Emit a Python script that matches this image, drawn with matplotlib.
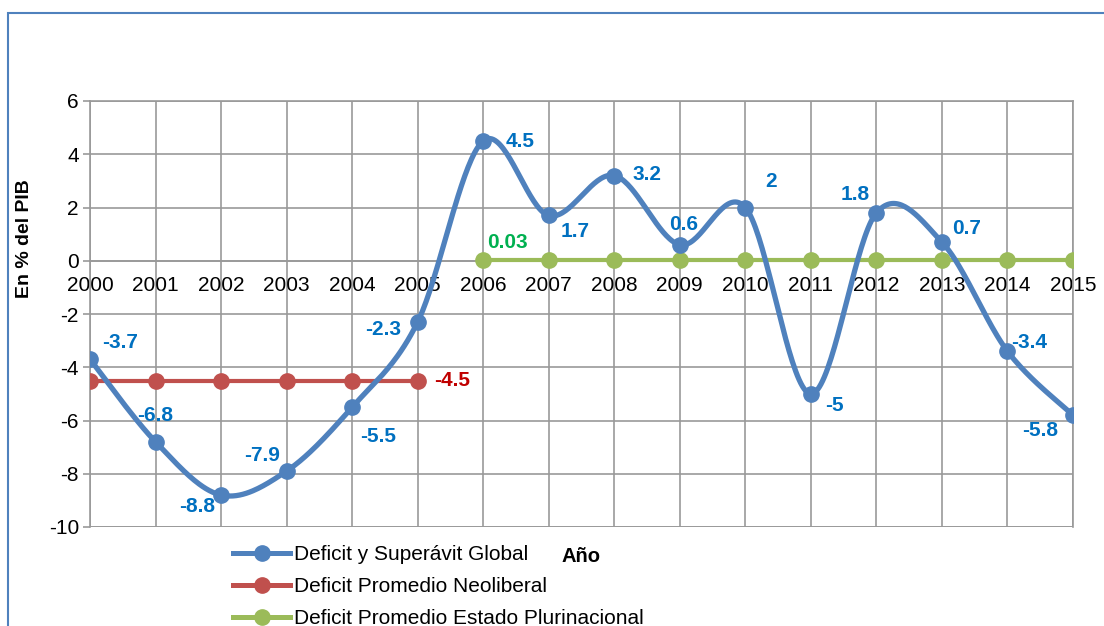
import numpy as np
import matplotlib.pyplot as plt
from matplotlib.lines import Line2D
from matplotlib.patches import Rectangle

plt.rcParams['font.family'] = ['Liberation Sans', 'DejaVu Sans']
plt.rcParams['axes.unicode_minus'] = False

# Datos
anios = np.arange(2000, 2016)
deficit_global = [-3.7, -6.8, -8.8, -7.9, -5.5, -2.3, 4.5, 1.7, 3.2, 0.6, 2, -5, 1.8, 0.7, -3.4, -5.8]
anios_neoliberal = np.arange(2000, 2006)
promedio_neoliberal = [-4.5] * 6
anios_plurinacional = np.arange(2006, 2016)
promedio_plurinacional = [0.03] * 10

# Posición de las etiquetas (desplazamiento en pixeles)
offsets_global = [(30, 17), (0, 26), (-24, -11), (-25, 16), (26, -29), (-35, -8),
                  (37, -1), (26, -16), (33, 1), (4, 20), (26, 26), (24, -12),
                  (-21, 18), (25, 14), (22, 9), (-33, -15)]

AZUL = '#4F81BD'
ROJO = '#C0504D'
VERDE = '#9BBB59'


def curva_suave(x, y, n=40):
    # linea suavizada tipo Excel (Bezier con tangentes Catmull-Rom)
    x = np.asarray(x, float)
    y = np.asarray(y, float)
    px = np.concatenate([[x[0]], x, [x[-1]]])
    py = np.concatenate([[y[0]], y, [y[-1]]])
    t = np.linspace(0, 1, n)
    xs, ys = [], []
    for i in range(1, len(px) - 2):
        p0 = np.array([px[i], py[i]])
        p3 = np.array([px[i + 1], py[i + 1]])
        p1 = p0 + (p3 - np.array([px[i - 1], py[i - 1]])) / 6
        p2 = p3 - (np.array([px[i + 2], py[i + 2]]) - p0) / 6
        b = ((1 - t) ** 3)[:, None] * p0 + (3 * (1 - t) ** 2 * t)[:, None] * p1 \
            + (3 * (1 - t) * t ** 2)[:, None] * p2 + (t ** 3)[:, None] * p3
        xs.extend(b[:, 0])
        ys.extend(b[:, 1])
    return xs, ys


fig = plt.figure(figsize=(11.04, 6.26), dpi=100)
ax = fig.add_axes([90 / 1104, 1 - 527 / 626, (1073 - 90) / 1104, (527 - 101) / 626])

sx, sy = curva_suave(anios, deficit_global)
ax.plot(sx, sy, color=AZUL, lw=3.8, zorder=4, solid_capstyle='round')
ax.plot(anios, deficit_global, 'o', color=AZUL, ms=11, zorder=5)
ax.plot(anios_neoliberal, promedio_neoliberal, '-o', color=ROJO, lw=3, ms=11, zorder=3)
ax.plot(anios_plurinacional, promedio_plurinacional, '-o', color=VERDE, lw=3, ms=11, zorder=3)

lab_kw = dict(textcoords='offset pixels', ha='center', va='center', fontsize=15, fontweight='bold')
for x, v, off in zip(anios, deficit_global, offsets_global):
    ax.annotate(f'{v:g}', (x, v), xytext=off, color='#0070C0', zorder=6, **lab_kw)
ax.annotate('-4.5', (anios_neoliberal[-1], promedio_neoliberal[-1]), xytext=(34, 0), color='#C00000', **lab_kw)
ax.annotate('0.03', (anios_plurinacional[0], promedio_plurinacional[0]), xytext=(24, 17), color='#00B050', **lab_kw)

ax.set_xlim(2000, 2015)
ax.set_ylim(-10, 6)
ax.set_xticks(anios)
ax.set_xticklabels([str(a) for a in anios])
ax.set_yticks(range(-10, 7, 2))
ax.grid(True, color='#999999', lw=1.2)
ax.set_axisbelow(True)
for s in ax.spines.values():
    s.set_color('#999999')
    s.set_linewidth(1.2)
ax.spines['bottom'].set_position(('data', 0))
ax.axhline(-10, color='#999999', lw=1.2, zorder=0)
ax.tick_params(axis='x', length=0, pad=11, labelsize=15)
ax.tick_params(axis='y', length=5, color='#999999', width=1.2, labelsize=15, pad=3)

fig.text(25 / 1104, 1 - 239 / 626, 'En % del PIB', rotation=90, ha='center', va='center',
         fontsize=14, fontweight='bold')
fig.text(581 / 1104, 1 - 557 / 626, 'Año', ha='center', va='center', fontsize=14.5, fontweight='bold')

handles = [Line2D([], [], color=c, lw=3.6, marker='o', ms=11) for c in (AZUL, ROJO, VERDE)]
fig.legend(handles, ['Deficit y Superávit Global', 'Deficit Promedio Neoliberal',
                     'Deficit Promedio Estado Plurinacional'],
           loc='upper left', bbox_to_anchor=(233 / 1104, 1 - 545 / 626), frameon=False,
           fontsize=15, handlelength=2.75, handletextpad=0.2, labelspacing=0.62,
           borderpad=0, borderaxespad=0)

fig.add_artist(Rectangle((8 / 1104, -0.1), 1.2, 1.1 - 13 / 626, transform=fig.transFigure,
                         fill=False, edgecolor='#4F81BD', lw=1.5))

fig.savefig('out.png', dpi=100, facecolor='white')
